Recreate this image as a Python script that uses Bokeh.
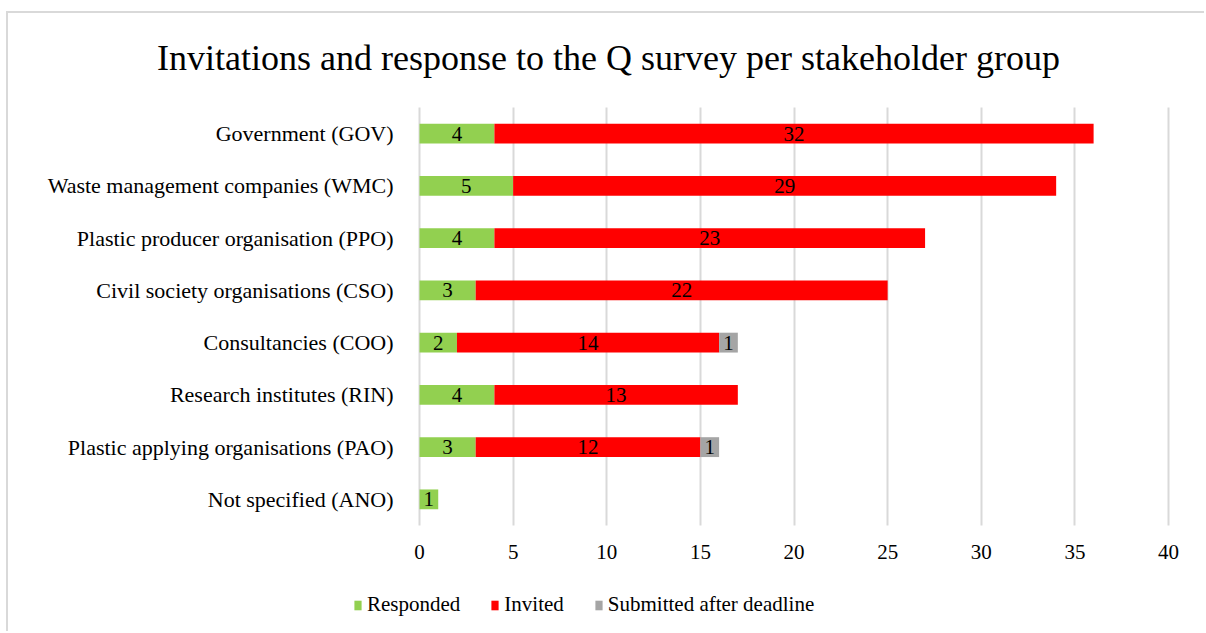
from bokeh.plotting import figure
from bokeh.models import ColumnDataSource, Legend, LegendItem, FactorRange, Label
from bokeh.core.properties import value
from bokeh.embed import file_html
from bokeh.resources import INLINE

groups = [
    "Government (GOV)",
    "Waste management companies (WMC)",
    "Plastic producer organisation (PPO)",
    "Civil society organisations (CSO)",
    "Consultancies (COO)",
    "Research institutes (RIN)",
    "Plastic applying organisations (PAO)",
    "Not specified (ANO)",
]
responded = [4, 5, 4, 3, 2, 4, 3, 1]
invited = [32, 29, 23, 22, 14, 13, 12, 0]
late = [0, 0, 0, 0, 1, 0, 1, 0]

series = ["Responded", "Invited", "Submitted after deadline"]
colors = ["#92D050", "#FF0000", "#A5A5A5"]
x_ticks = [0, 5, 10, 15, 20, 25, 30, 35, 40]

FONT = "Liberation Serif"
GRID = "#d9d9d9"

src = ColumnDataSource(dict(group=groups, Responded=responded, Invited=invited,
                            **{"Submitted after deadline": late}))

# The frame covers the whole chart box; title and legend sit inside it, and
# both axes are pinned at 0 so the category labels and tick labels fall in place.
p = figure(
    width=1198, height=620,
    y_range=FactorRange(*reversed(groups), range_padding=1.799,
                        range_padding_units="absolute"),
    x_range=(-21.629, 42.029),
    output_backend="svg", toolbar_location=None, title=None,
    min_border_left=6, min_border_right=0,
    min_border_top=0, min_border_bottom=14,
)
p.styles = {
    "margin-left": "6px", "margin-top": "11px",
    "border-left": "2px solid #d9d9d9", "border-top": "2px solid #d9d9d9",
}
p.outline_line_color = None

bars = p.hbar_stack(series, y="group", height=0.38, color=colors, source=src,
                    line_color=None)

# segment value labels, centred in each segment
lx, ly, lt = [], [], []
for g, r, i, l in zip(groups, responded, invited, late):
    start = 0
    for v in (r, i, l):
        if v > 0:
            lx.append(start + v / 2)
            ly.append(g)
            lt.append(str(v))
        start += v
p.text(x=lx, y=ly, text=lt, text_align="center", text_baseline="middle",
       text_font=value(FONT), text_font_size="21px", text_color="#000000")

# value axis: long inward ticks form the vertical grid lines
p.xaxis.ticker = x_ticks
p.xaxis.fixed_location = 0
p.xaxis.level = "underlay"
p.xaxis.axis_line_color = None
p.xaxis.major_tick_in = 418
p.xaxis.major_tick_out = 0
p.xaxis.major_tick_line_color = GRID
p.xaxis.major_tick_line_width = 2
p.xaxis.minor_tick_line_color = None
p.xaxis.major_label_text_font = FONT
p.xaxis.major_label_text_font_size = "21px"
p.xaxis.major_label_text_color = "#000000"
p.xaxis.major_label_standoff = 19

p.yaxis.fixed_location = 0
p.yaxis.axis_line_color = None
p.yaxis.major_tick_line_color = None
p.yaxis.minor_tick_line_color = None
p.yaxis.major_label_text_font = FONT
p.yaxis.major_label_text_font_size = "22px"
p.yaxis.major_label_text_color = "#000000"
p.yaxis.major_label_standoff = 20

p.xgrid.grid_line_color = None
p.ygrid.grid_line_color = None

p.add_layout(Label(
    x=594, y=562, x_units="screen", y_units="screen",
    text="Invitations and response to the Q survey per stakeholder group",
    text_align="center", text_baseline="middle",
    text_font=FONT, text_font_size="36px", text_color="#000000",
))

legend = Legend(
    items=[LegendItem(label=s, renderers=[b]) for s, b in zip(series, bars)],
    orientation="horizontal", location=(339, 2),
    padding=0, margin=0, spacing=30, label_standoff=5,
    glyph_width=9, glyph_height=12,
    label_text_font=FONT, label_text_font_size="21px", label_text_color="#000000",
    border_line_color=None, background_fill_alpha=0,
)
p.add_layout(legend, "center")

open("out.html", "w").write(file_html(p, INLINE))
